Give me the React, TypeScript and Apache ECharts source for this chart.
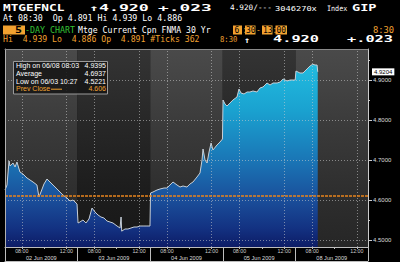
import React, { useEffect, useRef } from "react";
import * as echarts from "echarts";

// ---------- data ----------
const dayLabels = ["02 Jun 2009", "03 Jun 2009", "04 Jun 2009", "05 Jun 2009", "08 Jun 2009"];
const sessionOpen = 6.5;
const sessionClose = 13;
const timeLabelHours = [8, 12];
const timeTickHours = [8, 10, 12];
const yLabelValues = [4.5, 4.6, 4.7, 4.8, 4.9];
const yMinorValues = [4.5, 4.55, 4.6, 4.65, 4.7, 4.75, 4.8, 4.85, 4.9, 4.95];
const yMin = 4.4825;
const yMax = 4.9775;
const prevClose = 4.606;
const lastValue = 4.9204;

const day1Hours = [6.5, 6.68, 6.86, 6.95, 7.04, 7.22, 7.4, 7.57, 7.84, 8.11, 8.47, 8.74, 9.01, 9.36, 9.54, 9.72, 9.99, 10.26, 10.53, 10.8, 11.16, 11.42, 11.69, 12.05, 12.32, 12.59, 12.95];
const day1Values = [4.625, 4.6375, 4.6975, 4.685, 4.6875, 4.6925, 4.6825, 4.695, 4.67, 4.665, 4.655, 4.65, 4.645, 4.6375, 4.6075, 4.62, 4.64, 4.6525, 4.645, 4.6375, 4.6275, 4.62, 4.6125, 4.605, 4.5975, 4.6, 4.59];

const day2Hours = [6.54, 6.71, 6.98, 7.25, 7.52, 7.79, 8.06, 8.33, 8.59, 8.86, 9.13, 9.4, 9.67, 10.03, 10.3, 10.39, 10.45, 10.74, 11.01, 11.28, 11.55, 11.82, 12.09, 12.36, 12.63, 12.98];
const day2Values = [4.5425, 4.545, 4.55, 4.5425, 4.5525, 4.58, 4.57, 4.5625, 4.5575, 4.555, 4.5475, 4.545, 4.5425, 4.535, 4.53, 4.5575, 4.5221, 4.5275, 4.5275, 4.53, 4.5325, 4.5325, 4.535, 4.535, 4.535, 4.535];

const day3Hours = [6.53, 6.75, 7.11, 7.38, 7.74, 8.0, 8.27, 8.54, 8.9, 9.17, 9.44, 9.79, 10.06, 10.33, 10.69, 10.96, 11.14, 11.23, 11.41, 11.59, 11.77, 11.95, 12.12, 12.48, 12.75, 12.97];
const day3Values = [4.6175, 4.62, 4.625, 4.6275, 4.63, 4.63, 4.6375, 4.645, 4.6375, 4.6325, 4.635, 4.6325, 4.64, 4.645, 4.6575, 4.6675, 4.7, 4.7275, 4.7, 4.6925, 4.72, 4.7425, 4.725, 4.7375, 4.745, 4.7525];

const day4Hours = [6.52, 6.7, 6.88, 7.14, 7.41, 7.77, 7.95, 8.13, 8.4, 8.67, 8.93, 9.2, 9.56, 9.83, 10.1, 10.46, 10.73, 11.0, 11.36, 11.63, 11.9, 12.26, 12.53, 12.98];
const day4Values = [4.85, 4.84, 4.835, 4.8425, 4.85, 4.8575, 4.8775, 4.8675, 4.865, 4.87, 4.87, 4.8725, 4.87, 4.88, 4.8825, 4.8925, 4.8875, 4.8925, 4.8925, 4.895, 4.9025, 4.8975, 4.9, 4.9];

const day5Hours = [6.55, 6.73, 6.91, 7.18, 7.45, 7.63, 7.81, 8.05, 8.26, 8.44, 8.5];
const day5Values = [4.9225, 4.92, 4.9175, 4.9175, 4.925, 4.93, 4.935, 4.9395, 4.9375, 4.9375, 4.9204];

const legendRows = [
  { label: "High on 06/08 08:03", value: "4.9395" },
  { label: "Average", value: "4.6937" },
  { label: "Low on 06/03 10:27", value: "4.5221" },
];
const prevCloseLabel = "Prev Close";

// ---------- derived ----------
const dayLen = sessionClose - sessionOpen;
const total = dayLen * dayLabels.length;
const toT = (day: number, h: number) => day * dayLen + (h - sessionOpen);
const days = [
  { hours: day1Hours, values: day1Values },
  { hours: day2Hours, values: day2Values },
  { hours: day3Hours, values: day3Values },
  { hours: day4Hours, values: day4Values },
  { hours: day5Hours, values: day5Values },
];
const seriesData = days.flatMap((d, i) => d.hours.map((h, j) => [toT(i, h), d.values[j]]));
const timeLabelValues = dayLabels.flatMap((_, i) => timeLabelHours.map((h) => toT(i, h)));
const timeTickValues = dayLabels.flatMap((_, i) => timeTickHours.map((h) => toT(i, h)));
const dayBoundaryValues = [...dayLabels.map((_, i) => i * dayLen), total];
const dayCenterValues = dayLabels.map((_, i) => i * dayLen + dayLen / 2);

const fmtTime = (v: number) => {
  const day = Math.floor((v + 1e-6) / dayLen);
  const h = v - day * dayLen + sessionOpen;
  const mins = Math.round(h * 60);
  const hh = Math.floor(mins / 60);
  const mm = mins % 60;
  return String(hh).padStart(2, "0") + ":" + String(mm).padStart(2, "0");
};

const ORANGE = "#f2a230";
const MONO = '"DejaVu Sans Mono"';
const SANS = '"Liberation Sans", Arial';

function txt(x: number, y: number, text: string, color: string, font: string, scaleX = 1, align = "left") {
  return {
    type: "text",
    x,
    y,
    scaleX,
    silent: true,
    z: 20,
    style: {
      text,
      fill: color,
      font,
      align,
      verticalAlign: "middle",
      textAlign: align,
      textVerticalAlign: "middle",
    },
  };
}
function box(x: number, y: number, w: number, h: number, fill: string, stroke?: string) {
  return {
    type: "rect",
    shape: { x, y, width: w, height: h },
    silent: true,
    z: 19,
    style: stroke ? { fill, stroke, lineWidth: 1 } : { fill },
  };
}

const bigFont = `bold 8.5px ${MONO}`;
const midFont = `8px ${MONO}`;
const smallFont = `7.5px ${MONO}`;

const headerGraphics = [
  txt(3, 8, "MTGEFNCL", "#ffffff", bigFont, 1.5),
  txt(89, 8, "\u21914.920", "#ffffff", bigFont, 1.95),
  txt(158, 8, "+.023", "#ffffff", bigFont, 2.1),
  txt(230, 8, "4.920/---", "#ffffff", smallFont, 1.03),
  txt(275, 8, "3046270x", "#ffffff", smallFont, 1.16),
  txt(327, 8, "Index", "#ffffff", smallFont, 0.9),
  txt(352, 8, "GIP", "#ffffff", bigFont, 1.6),
  txt(3, 18.5, "At 08:30  Op 4.891 Hi 4.939 Lo 4.886", "#ffffff", midFont, 1.035),
  box(3, 25.5, 22, 9, ORANGE),
  txt(15, 30, "5", "#000000", `bold 9px ${MONO}`, 1.3),
  txt(25, 30, "-DAY CHART", "#34c034", midFont, 1.04),
  txt(78, 30, "Mtge Current Cpn FNMA 30 Yr", "#ffffff", midFont, 1.02),
  box(233, 25.5, 9, 9, ORANGE),
  txt(242.5, 30, ":", ORANGE, midFont),
  box(245, 25.5, 10.5, 9, ORANGE),
  txt(256, 30, "-", ORANGE, midFont),
  box(262, 25.5, 10.5, 9, ORANGE),
  txt(272.5, 30, ":", ORANGE, midFont),
  box(275.5, 25.5, 11.5, 9, ORANGE),
  txt(234.5, 30, "6", "#000000", midFont),
  txt(246, 30, "30", "#000000", midFont),
  txt(263, 30, "13", "#000000", midFont),
  txt(276.5, 30, "00", "#000000", midFont),
  txt(373, 30, "8:30", ORANGE, midFont, 1.1),
  txt(3, 39.5, "Hi  4.939 Lo  4.886 Op  4.891 #Ticks 362", ORANGE, midFont, 1.02),
  txt(220, 39.5, "8:30", ORANGE, midFont, 0.9),
  txt(244, 39.5, "\u2191", "#ffffff", bigFont, 1.2),
  txt(273, 39.5, "4.920", "#ffffff", bigFont, 1.8),
  txt(347, 39.5, "+.023", "#ffffff", bigFont, 1.8),
];

const legendFont = `7px ${SANS}`;
const legendRowY = [65.5, 73.2, 81, 88.7];
const legendGraphics = [
  box(13.5, 61.5, 94, 32.5, "rgba(22,22,22,0.88)", "#9a9a9a"),
  ...legendRows.flatMap((r, i) => [
    txt(16, legendRowY[i], r.label, "#ffffff", legendFont),
    txt(106, legendRowY[i], r.value, "#ffffff", legendFont, 1, "right"),
  ]),
  txt(16, legendRowY[3], prevCloseLabel, ORANGE, legendFont),
  {
    type: "line",
    silent: true,
    z: 20,
    shape: { x1: 51, y1: legendRowY[3] + 0.5, x2: 62, y2: legendRowY[3] + 0.5 },
    style: { stroke: ORANGE, lineWidth: 1 },
  },
  txt(106, legendRowY[3], prevClose.toFixed(3), ORANGE, legendFont, 1, "right"),
];

function bgGradient(i: number) {
  const light = i % 2 === 0;
  const stops = light
    ? [
        { offset: 0, color: "#4a4a4a" },
        { offset: 0.16, color: "#444444" },
        { offset: 0.4, color: "#3a3a3a" },
        { offset: 0.7, color: "#2f2f2f" },
        { offset: 1, color: "#262626" },
      ]
    : [
        { offset: 0, color: "#343434" },
        { offset: 0.35, color: "#282828" },
        { offset: 0.7, color: "#1d1d1d" },
        { offset: 1, color: "#171717" },
      ];
  return new echarts.graphic.LinearGradient(0, 0, 0, 1, stops);
}

const fillGradient = {
  type: "linear",
  x: 0,
  y: 0,
  x2: 0,
  y2: 262,
  global: true,
  colorStops: [
    { offset: 0, color: "#24c2e2" },
    { offset: 64 / 262, color: "#22bce0" },
    { offset: 110 / 262, color: "#1aa2d0" },
    { offset: 160 / 262, color: "#1a76b6" },
    { offset: 200 / 262, color: "#1a4e9a" },
    { offset: 228 / 262, color: "#133282" },
    { offset: 247 / 262, color: "#0d1c66" },
    { offset: 1, color: "#0d1c66" },
  ],
};

const hiddenAxis = {
  axisTick: { show: false },
  axisLabel: { show: false },
  splitLine: { show: false },
};

const option: any = {
  animation: false,
  backgroundColor: "#000000",
  grid: { left: 5, top: 49, width: 363, height: 198, containLabel: false },
  xAxis: [
    {
      type: "value",
      min: 0,
      max: total,
      position: "bottom",
      z: 10,
      axisLine: { show: true, onZero: false, lineStyle: { color: "#bdbdbd", width: 1 } },
      axisTick: { show: true, customValues: timeTickValues, length: 2, lineStyle: { color: "#bdbdbd" } },
      axisLabel: {
        customValues: timeLabelValues,
        formatter: (v: number) => fmtTime(v),
        fontSize: 5.3,
        fontFamily: SANS,
        color: "#cfcfcf",
        margin: 1.5,
      },
      splitLine: { show: false },
    },
    {
      type: "value",
      min: 0,
      max: total,
      position: "bottom",
      z: 10,
      axisLine: { show: false, onZero: false },
      axisTick: { show: true, customValues: dayBoundaryValues, length: 14, lineStyle: { color: "#bdbdbd" } },
      axisLabel: {
        customValues: dayCenterValues,
        formatter: (v: number) => dayLabels[Math.floor(v / dayLen)],
        fontSize: 5.6,
        fontFamily: SANS,
        color: "#dddddd",
        margin: 7.5,
      },
      splitLine: { show: false },
    },
    {
      type: "value",
      min: 0,
      max: total,
      position: "bottom",
      offset: 14,
      z: 10,
      axisLine: { show: true, onZero: false, lineStyle: { color: "#bdbdbd" } },
      ...hiddenAxis,
    },
    {
      type: "value",
      min: 0,
      max: total,
      position: "top",
      z: 10,
      axisLine: { show: true, onZero: false, lineStyle: { color: "#8a8a8a" } },
      ...hiddenAxis,
    },
  ],
  yAxis: [
    {
      type: "value",
      min: yMin,
      max: yMax,
      position: "right",
      z: 10,
      axisLine: { show: true, onZero: false, lineStyle: { color: "#cccccc" } },
      axisTick: { show: true, customValues: yLabelValues, length: 4, lineStyle: { color: "#cccccc" } },
      axisLabel: {
        customValues: yLabelValues,
        formatter: (v: number) => v.toFixed(4),
        fontSize: 6,
        fontFamily: SANS,
        color: "#dddddd",
        margin: 5,
      },
      splitLine: { show: false },
    },
    {
      type: "value",
      min: yMin,
      max: yMax,
      position: "right",
      z: 10,
      axisLine: { show: false, onZero: false },
      axisTick: { show: true, customValues: yMinorValues, length: 2, lineStyle: { color: "#cccccc" } },
      axisLabel: { show: false },
      splitLine: { show: false },
    },
    {
      type: "value",
      min: yMin,
      max: yMax,
      position: "right",
      z: 11,
      axisLine: { show: false, onZero: false },
      axisTick: { show: false },
      axisLabel: {
        customValues: [lastValue],
        formatter: (v: number) => v.toFixed(4),
        fontSize: 6,
        fontFamily: SANS,
        color: "#000000",
        backgroundColor: "#ffffff",
        padding: [1, 2, 0, 2],
        margin: 4,
      },
      splitLine: { show: false },
    },
    {
      type: "value",
      min: yMin,
      max: yMax,
      position: "left",
      z: 10,
      axisLine: { show: true, onZero: false, lineStyle: { color: "#b0b0b0" } },
      ...hiddenAxis,
    },
  ],
  series: [
    {
      type: "line",
      data: [],
      z: 1,
      silent: true,
      markArea: {
        silent: true,
        label: { show: false },
        data: dayLabels.map((_, i) => [
          { xAxis: i * dayLen, yAxis: yMin, itemStyle: { color: bgGradient(i), opacity: 1 } },
          { xAxis: (i + 1) * dayLen, yAxis: yMax },
        ]),
      },
    },
    {
      type: "line",
      data: seriesData,
      z: 2,
      showSymbol: false,
      symbol: "none",
      silent: true,
      lineStyle: { color: "#c8d0d8", width: 1 },
      areaStyle: { origin: "start", color: fillGradient, opacity: 1 },
    },
    {
      type: "line",
      data: [],
      z: 3,
      silent: true,
      markLine: {
        silent: true,
        symbol: ["none", "none"],
        label: { show: false },
        lineStyle: { type: [1, 2], color: "rgba(205,205,205,0.55)", width: 1 },
        data: [
          ...yLabelValues.map((v) => ({ yAxis: v })),
          ...timeLabelValues.map((t) => ({ xAxis: t })),
        ],
      },
    },
    {
      type: "line",
      data: [],
      z: 4,
      silent: true,
      markLine: {
        silent: true,
        symbol: ["none", "none"],
        label: { show: false },
        lineStyle: { type: [3, 1], color: "#e8841c", width: 1.5 },
        data: [{ yAxis: prevClose }],
      },
    },
  ],
  graphic: [...headerGraphics, ...legendGraphics],
};

export default function App() {
  const ref = useRef<HTMLDivElement>(null);
  useEffect(() => {
    const chart = echarts.init(ref.current!, null, { renderer: "svg", width: 400, height: 262 });
    chart.setOption(option);
    return () => chart.dispose();
  }, []);
  return (
    <div
      ref={ref}
      style={{ position: "fixed", left: 0, top: 0, width: 400, height: 262, background: "#000" }}
    />
  );
}
